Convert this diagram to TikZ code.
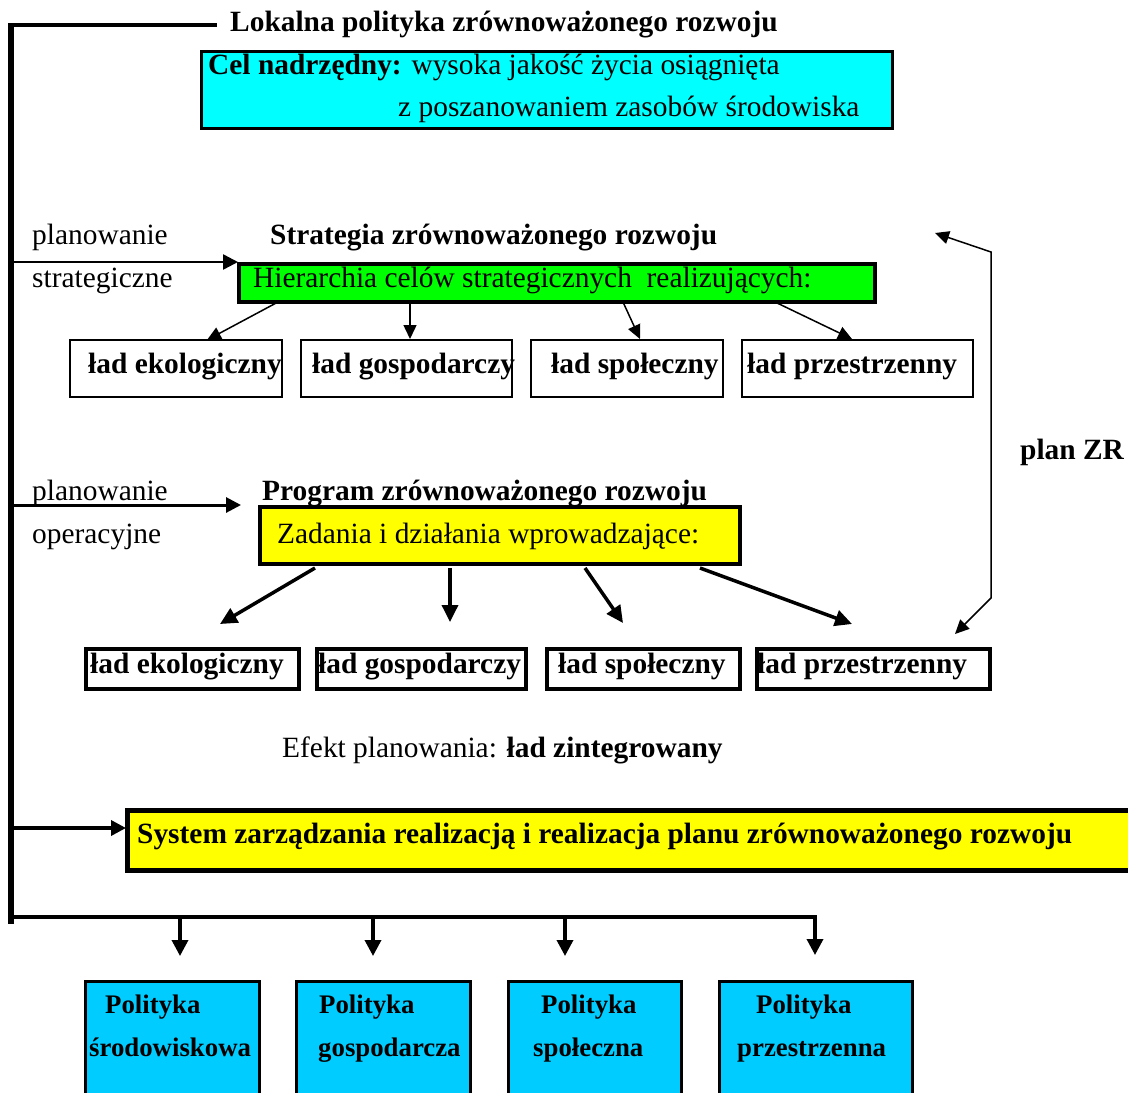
\documentclass[tikz,border=0pt]{standalone}
\usepackage{fontspec}
\setmainfont{Liberation Serif}
\usetikzlibrary{arrows.meta}
\definecolor{cyanbox}{HTML}{00FFFF}
\definecolor{greenbox}{HTML}{00FF00}
\definecolor{yellowbox}{HTML}{FFFF00}
\definecolor{polbox}{HTML}{00CCFF}
\tikzset{
  bx/.style={draw, rectangle, anchor=north west, inner sep=0pt},
  txt/.style={anchor=base west, inner sep=0pt, font=\fontsize{29.4}{34}\selectfont},
  ptxt/.style={anchor=base west, inner sep=0pt, font=\fontsize{26.8}{30}\selectfont\bfseries},
  thinarrow/.style={line width=1.5pt, -{Triangle[length=14pt,width=13pt]}},
  thickarrow/.style={line width=3.5pt, -{Triangle[length=17pt,width=16pt]}},
  mainarrow/.style={-{Triangle[length=15pt,width=15pt]}},
  downarrow/.style={line width=3.5pt, -{Triangle[length=16pt,width=16pt]}}
}
\begin{document}
\begin{tikzpicture}[x=1pt,y=-1pt]
\useasboundingbox (0,0) rectangle (1128,1093);
\clip (0,0) rectangle (1128,1093);
\fill[white] (0,0) rectangle (1128,1093);

% spine
\coordinate (vtop) at (11,23);
\coordinate (vbot) at (11,924);
\coordinate (htop) at (217,25);
\coordinate (hleft) at (11,25);
\draw[line width=5.5pt] (vtop) -- (vbot);
\draw[line width=3.5pt] (hleft) -- (htop);

% boxes
\node[bx, fill=cyanbox, line width=3pt, minimum width=691pt, minimum height=77pt] (cel) at (200,50) {};
\node[bx, fill=greenbox, line width=4pt, minimum width=636pt, minimum height=38pt] (hier) at (237,262) {};
\node[bx, line width=1.5pt, minimum width=212pt, minimum height=57pt] (s1) at (69,339) {};
\node[bx, line width=1.5pt, minimum width=211pt, minimum height=57pt] (s2) at (300,339) {};
\node[bx, line width=1.5pt, minimum width=192pt, minimum height=57pt] (s3) at (530,339) {};
\node[bx, line width=1.5pt, minimum width=231pt, minimum height=57pt] (s4) at (741,339) {};
\node[bx, fill=yellowbox, line width=3.5pt, minimum width=480pt, minimum height=57pt] (zad) at (258,505) {};
\node[bx, line width=3.5pt, minimum width=213pt, minimum height=40pt] (o1) at (84,647) {};
\node[bx, line width=3.5pt, minimum width=209pt, minimum height=40pt] (o2) at (315,647) {};
\node[bx, line width=3.5pt, minimum width=193pt, minimum height=40pt] (o3) at (545,647) {};
\node[bx, line width=3.5pt, minimum width=233pt, minimum height=40pt] (o4) at (755,647) {};
\node[bx, fill=yellowbox, line width=5pt, minimum width=1020pt, minimum height=60pt] (sys) at (125,808) {};
\node[bx, fill=polbox, line width=3pt, minimum width=174pt, minimum height=140pt] (p1) at (84,980) {};
\node[bx, fill=polbox, line width=3pt, minimum width=174pt, minimum height=140pt] (p2) at (295,980) {};
\node[bx, fill=polbox, line width=3pt, minimum width=173pt, minimum height=140pt] (p3) at (507,980) {};
\node[bx, fill=polbox, line width=3pt, minimum width=193pt, minimum height=140pt] (p4) at (718,980) {};

% spine arrows
\coordinate (a1s) at (11,262);  \coordinate (a1e) at (238,262);
\coordinate (a2s) at (11,505);  \coordinate (a2e) at (241,505);
\coordinate (a3s) at (11,828);  \coordinate (a3e) at (126,828);
\draw[mainarrow, line width=2.5pt] (a1s) -- (a1e);
\draw[mainarrow, line width=3pt] (a2s) -- (a2e);
\draw[mainarrow, line width=3.5pt] (a3s) -- (a3e);

% strategic arrows
\coordinate (b1s) at (278,302); \coordinate (b1e) at (207,340);
\coordinate (b2s) at (410,302); \coordinate (b2e) at (410,339);
\coordinate (b3s) at (623,302); \coordinate (b3e) at (640,339);
\coordinate (b4s) at (775,302); \coordinate (b4e) at (852,339);
\draw[thinarrow] (b1s) -- (b1e);
\draw[thinarrow] (b2s) -- (b2e);
\draw[thinarrow] (b3s) -- (b3e);
\draw[thinarrow] (b4s) -- (b4e);

% operational arrows
\coordinate (c1s) at (315,568); \coordinate (c1e) at (220,624);
\coordinate (c2s) at (450,568); \coordinate (c2e) at (450,622);
\coordinate (c3s) at (585,568); \coordinate (c3e) at (623,623);
\coordinate (c4s) at (700,568); \coordinate (c4e) at (852,624);
\draw[thickarrow] (c1s) -- (c1e);
\draw[thickarrow] (c2s) -- (c2e);
\draw[thickarrow] (c3s) -- (c3e);
\draw[thickarrow] (c4s) -- (c4e);

% feedback arrow (plan ZR)
\coordinate (f1) at (955,634);
\coordinate (f2) at (991,598);
\coordinate (f3) at (991,252);
\coordinate (f4) at (935,233);
\draw[line width=1.5pt, {Triangle[length=14pt,width=13pt]}-{Triangle[length=14pt,width=13pt]}] (f1) -- (f2) -- (f3) -- (f4);

% bottom distribution
\coordinate (hb) at (815,917);
\coordinate (hbl) at (11,917);
\draw[line width=4pt] (hbl) -- (hb);
\coordinate (d1s) at (180,917); \coordinate (d1e) at (180,956);
\coordinate (d2s) at (373,917); \coordinate (d2e) at (373,956);
\coordinate (d3s) at (565,917); \coordinate (d3e) at (565,956);
\coordinate (d4s) at (815,915); \coordinate (d4e) at (815,955);
\draw[downarrow] (d1s) -- (d1e);
\draw[downarrow] (d2s) -- (d2e);
\draw[downarrow] (d3s) -- (d3e);
\draw[downarrow] (d4s) -- (d4e);

% texts
\node[txt] (tlok) at (230,31) {\bfseries Lokalna polityka zrównoważonego rozwoju};
\node[txt] (tcel) at (208,74) {\textbf{Cel nadrzędny:} wysoka jakość życia osiągnięta};
\node[txt] (tcel2) at (398,116) {z poszanowaniem zasobów środowiska};
\node[txt] (tps) at (32,244) {planowanie};
\node[txt] (tst) at (32,287) {strategiczne};
\node[txt] (tstr) at (270,244) {\bfseries Strategia zrównoważonego rozwoju};
\node[txt] (thier) at (253,287) {Hierarchia celów strategicznych~ realizujących:};
\node[txt] (ts1) at (88,373) {\bfseries ład ekologiczny};
\node[txt] (ts2) at (312,373) {\bfseries ład gospodarczy};
\node[txt] (ts3) at (551,373) {\bfseries ład społeczny};
\node[txt] (ts4) at (747,373) {\bfseries ład przestrzenny};
\node[txt] (tzr) at (1020,459) {\bfseries plan ZR};
\node[txt] (tpo) at (32,500) {planowanie};
\node[txt] (top) at (32,543) {operacyjne};
\node[txt] (tprog) at (262,500) {\bfseries Program zrównoważonego rozwoju};
\node[txt] (tzad) at (277,543) {Zadania i działania wprowadzające:};
\node[txt] (to1) at (90,673) {\bfseries ład ekologiczny};
\node[txt] (to2) at (318,673) {\bfseries ład gospodarczy};
\node[txt] (to3) at (558,673) {\bfseries ład społeczny};
\node[txt] (to4) at (757,673) {\bfseries ład przestrzenny};
\node[txt] (tef) at (282,757) {Efekt planowania: \textbf{ład zintegrowany}};
\node[txt] (tsys) at (137,843) {\bfseries System zarządzania realizacją i realizacja planu zrównoważonego rozwoju};
\node[ptxt] (tp1a) at (105,1013) {Polityka};
\node[ptxt] (tp1b) at (89,1056) {środowiskowa};
\node[ptxt] (tp2a) at (319,1013) {Polityka};
\node[ptxt] (tp2b) at (318,1056) {gospodarcza};
\node[ptxt] (tp3a) at (541,1013) {Polityka};
\node[ptxt] (tp3b) at (533,1056) {społeczna};
\node[ptxt] (tp4a) at (756,1013) {Polityka};
\node[ptxt] (tp4b) at (737,1056) {przestrzenna};
\end{tikzpicture}
\end{document}
